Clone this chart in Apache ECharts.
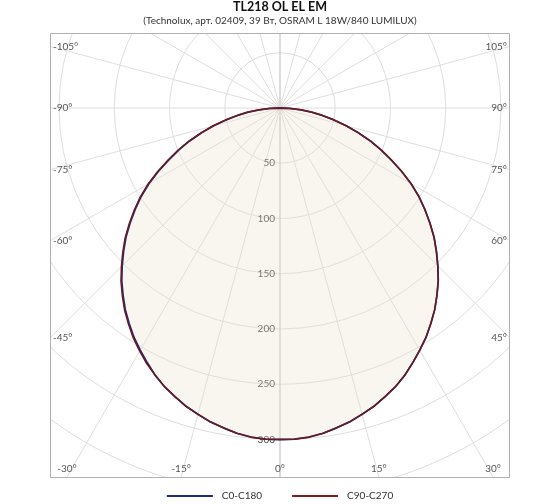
<!DOCTYPE html>
<html><head><meta charset="utf-8">
<script src="https://cdn.jsdelivr.net/npm/echarts@6/dist/echarts.min.js"></script>
<style>html,body{margin:0;padding:0;background:#fff}#c{width:560px;height:504px}</style>
</head><body><div id="c"></div>
<script>
const titleText = 'TL218 OL EL EM';
const subtitleText = '(Technolux, арт. 02409, 39 Вт, OSRAM L 18W/840 LUMILUX)';
const seriesNames = ['C0-C180', 'C90-C270'];
const angles = [-90,-87.5,-85,-82.5,-80,-77.5,-75,-72.5,-70,-67.5,-65,-62.5,-60,-57.5,-55,-52.5,-50,-47.5,-45,-42.5,-40,-37.5,-35,-32.5,-30,-27.5,-25,-22.5,-20,-17.5,-15,-12.5,-10,-7.5,-5,-2.5,
  0,2.5,5,7.5,10,12.5,15,17.5,20,22.5,25,27.5,30,32.5,35,37.5,40,42.5,45,47.5,50,52.5,55,57.5,60,62.5,65,67.5,70,72.5,75,77.5,80,82.5,85,87.5,90];
const c0c180 = [0,9,19,29,39,50,62,74,87,99,111,124,137,149,160,171,182,192,202,212,221,230,238,246,253,260,267,273,278,283,287,291,294,297,299,300,
  300,300,299,297,294,291,287,283,278,273,267,260,253,246,238,230,221,212,202,192,182,171,160,149,137,124,111,99,87,74,62,50,39,29,19,9,0];
const c90c270 = [0,10,20,30,40,51,63,75,88,100,112,125,138,150,161,172,183,193,203,213,222,231,239,247,254,261,267,273,278,283,287,291,294,297,299,300,
  300,300,299,297,294,291,287,283,278,273,267,260,253,246,238,230,221,212,202,192,182,171,160,149,137,124,111,99,87,74,62,50,39,29,19,9,0];
const radiusTickLabels = [50,100,150,200,250,300];
const angleTickLabels = [-105,-90,-75,-60,-45,-30,-15,0,15,30,45,60,75,90,105];

// layout
const CX = 280, CY = 108, R = 442, RMAX = 400;
const BOX = {l: 50, r: 510, t: 33, b: 477};
const W = 560, H = 504;

const chart = echarts.init(document.getElementById('c'), null, {renderer: 'canvas'});

function toPolar(vals) {
  return angles.map((a, i) => [vals[i], a < 0 ? a + 360 : a]);
}

const splitColors = ['#b9b9b9'].concat(new Array(11).fill('#dedede'));

const graphics = [];
// masks outside the plot box
[[0, 0, W, BOX.t], [0, BOX.b, W, H - BOX.b], [0, 0, BOX.l, H], [BOX.r, 0, W - BOX.r, H]].forEach(m => {
  graphics.push({type: 'rect', z: 50, silent: true, shape: {x: m[0], y: m[1], width: m[2], height: m[3]}, style: {fill: '#fff'}});
});
graphics.push({type: 'rect', z: 60, silent: true,
  shape: {x: BOX.l + 0.5, y: BOX.t + 0.5, width: BOX.r - BOX.l - 1, height: BOX.b - BOX.t},
  style: {fill: 'none', stroke: '#b0b0b0', lineWidth: 1}});

// angle labels at the box edges
angleTickLabels.forEach(a => {
  const rad = a * Math.PI / 180;
  const dx = Math.sin(rad), dy = Math.cos(rad);
  let t = Infinity, side = '';
  if (dx < -1e-9) { const tt = (BOX.l - CX) / dx; if (tt < t) { t = tt; side = 'left'; } }
  if (dx > 1e-9) { const tt = (BOX.r - CX) / dx; if (tt < t) { t = tt; side = 'right'; } }
  if (dy > 1e-9) { const tt = (BOX.b - CY) / dy; if (tt < t) { t = tt; side = 'bottom'; } }
  if (dy < -1e-9) { const tt = (BOX.t - CY) / dy; if (tt < t) { t = tt; side = 'top'; } }
  const px = CX + dx * t, py = CY + dy * t;
  let x = px, y = py, align = 'center', va = 'middle';
  if (side === 'left') { x = BOX.l + 3; align = 'left'; }
  else if (side === 'right') { x = BOX.r - 3; align = 'right'; }
  else if (side === 'bottom') { y = BOX.b - 8; x = Math.max(BOX.l + 16, Math.min(BOX.r - 16, px)); }
  graphics.push({type: 'text', z: 100, silent: true,
    style: {text: a + '°', x: x, y: y, fill: '#555', font: '10px Lato',
      textAlign: align, textVerticalAlign: va, align: align, verticalAlign: va}});
});

chart.setOption({
  backgroundColor: '#fff',
  animation: false,
  title: [
    {text: titleText, left: 'center', top: 0, padding: 0, z: 100,
     textStyle: {fontFamily: 'Lato', fontWeight: 'bold', fontSize: 12.5, color: '#111'}},
    {text: subtitleText, left: 'center', top: 16, padding: 0, z: 100,
     textStyle: {fontFamily: 'Lato', fontWeight: 'normal', fontSize: 10, color: '#333'}}
  ],
  legend: {
    data: seriesNames, left: 'center', top: 491, padding: 0, z: 100,
    icon: 'rect', itemWidth: 46, itemHeight: 2, itemGap: 30,
    textStyle: {fontFamily: 'Lato', fontSize: 10, color: '#333', padding: [0, 0, 0, 4]}
  },
  polar: {center: [CX, CY], radius: R},
  angleAxis: {
    type: 'value', min: 0, max: 360, interval: 15, startAngle: 270, clockwise: false,
    axisLine: {show: false}, axisTick: {show: false}, axisLabel: {show: false},
    splitLine: {show: true, lineStyle: {color: splitColors, width: 1}}
  },
  radiusAxis: {
    type: 'value', min: 0, max: RMAX, interval: 50,
    axisLine: {show: false}, axisTick: {show: false},
    axisLabel: {show: true, margin: -5, align: 'right', verticalAlign: 'middle',
      fontFamily: 'Lato', fontSize: 10, color: '#444',
      formatter: v => radiusTickLabels.indexOf(v) >= 0 ? String(v) : ''},
    splitLine: {show: true, lineStyle: {color: '#dedede', width: 1}}
  },
  series: [
    {name: seriesNames[0], type: 'line', coordinateSystem: 'polar', showSymbol: false, symbol: 'none',
     data: toPolar(c0c180), lineStyle: {color: '#1f2b7b', width: 1.8}, itemStyle: {color: '#1f2b7b'},
     areaStyle: {color: 'rgba(236,228,208,0.45)'}, z: 3},
    {name: seriesNames[1], type: 'line', coordinateSystem: 'polar', showSymbol: false, symbol: 'none',
     data: toPolar(c90c270), lineStyle: {color: '#6e1a1a', width: 1.5}, itemStyle: {color: '#7a1d1d'}, z: 4}
  ],
  graphic: {elements: graphics}
});
</script></body></html>
